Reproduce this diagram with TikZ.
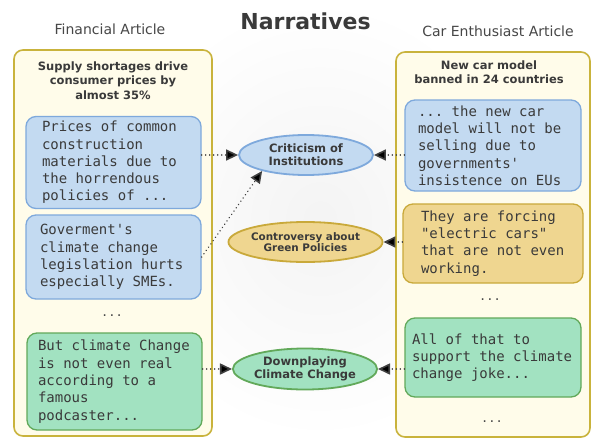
\documentclass[tikz,border=0pt]{standalone}
\usepackage{fontspec}
\setmainfont{DejaVu Sans}
\setmonofont{DejaVu Sans Mono}
\usetikzlibrary{shapes.geometric,arrows.meta}
\definecolor{cream}{HTML}{FFFCEA}
\definecolor{gold}{HTML}{C9B33C}
\definecolor{bluefill}{HTML}{C3DAF1}
\definecolor{blueline}{HTML}{7EA9DC}
\definecolor{yelfill}{HTML}{EFD690}
\definecolor{yelline}{HTML}{C9A93A}
\definecolor{grnfill}{HTML}{A2E2C1}
\definecolor{grnline}{HTML}{62A95A}
\definecolor{txt}{HTML}{3A3A3A}
\definecolor{ttl}{HTML}{474747}
\tikzset{
  container/.style={draw=gold, fill=cream, line width=1.6pt, rounded corners=9pt, inner sep=0pt},
  quotebox/.style={rounded corners=10pt, line width=1.3pt, inner sep=0pt, align=left, text=txt,
    font=\ttfamily\fontsize{14}{17.3}\selectfont,
    execute at begin node={\spaceskip=0pt\xspaceskip=0pt\relax}},
  bluebox/.style={quotebox, draw=blueline, fill=bluefill},
  yelbox/.style={quotebox, draw=yelline, fill=yelfill},
  grnbox/.style={quotebox, draw=grnline, fill=grnfill},
  narr/.style={ellipse, line width=1.8pt, inner sep=0pt, minimum width=134pt, minimum height=40pt,
    align=center, text=txt, font=\bfseries\fontsize{11.5}{13.4}\selectfont},
  header/.style={align=center, text=txt, font=\bfseries\fontsize{11.5}{14.5}\selectfont},
  coltitle/.style={anchor=base, text=ttl, font=\fontsize{14}{16}\selectfont},
  ellip/.style={text=ttl, font=\ttfamily\fontsize{12}{14}\selectfont},
  link/.style={draw=black!75, line width=1.6pt, line cap=round, dash pattern=on 0.01pt off 4pt,
    -{Triangle[length=12pt,width=11pt,fill=black,line cap=butt]}}
}
\begin{document}
\begin{tikzpicture}[x=1pt,y=-1pt]
\useasboundingbox (0,0) rectangle (591,439);
\fill[white] (0,0) rectangle (591,439);
\shade[inner color=gray!9, outer color=white] (120,0) rectangle (520,439);
% titles
\node[anchor=base, text=txt, font=\bfseries\fontsize{22}{26}\selectfont] (title) at (305.5,29.5) {Narratives};
\node[coltitle] (lt) at (110,34.3) {Financial Article};
\node[coltitle] (rt) at (498,36) {Car Enthusiast Article};
% containers
\node[container, minimum width=198pt, minimum height=386pt] (lc) at (113,243) {};
\node[container, minimum width=194pt, minimum height=385pt] (rc) at (493,244.5) {};
\node[header] (lh) at (113,80.5) {Supply shortages drive\\consumer prices by\\almost 35\%};
\node[header] (rh) at (489,72) {New car model\\banned in 24 countries};
% left quotes
\node[bluebox, minimum width=175pt, minimum height=92pt, text width=143pt] (l1) at (113.5,162.5)
  {Prices of common\\construction\\materials due to\\the horrendous\\policies of ...};
\node[bluebox, minimum width=175pt, minimum height=84pt, text width=147pt] (l2) at (113.5,257)
  {Goverment's\\climate change\\legislation hurts\\especially SMEs.};
\node[ellip] (ld) at (112,316) {...};
\node[grnbox, minimum width=175pt, minimum height=97pt, text width=153pt] (l3) at (114.5,381.5)
  {But climate Change\\is not even real\\according to a\\famous\\podcaster...};
% right quotes
\node[bluebox, minimum width=176pt, minimum height=91pt, text width=150pt] (r1) at (493,145.5)
  {... the new car\\model will not be\\selling due to\\governments'\\insistence on EUs};
\node[yelbox, minimum width=180pt, minimum height=79pt, text width=144pt] (r2) at (493,243.5)
  {They are forcing\\"electric cars"\\that are not even\\working.};
\node[ellip] (rd1) at (490,300) {...};
\node[grnbox, minimum width=176pt, minimum height=79pt, text width=162pt] (r3) at (493,357.5)
  {All of that to\\support the climate\\change joke...};
\node[ellip] (rd2) at (492,422) {...};
% narratives
\node[narr, draw=blueline, fill=bluefill] (crit) at (306,155) {Criticism of\\Institutions};
\node[narr, draw=yelline, fill=yelfill, font=\bfseries\fontsize{10.4}{11.5}\selectfont] (contro) at (305.5,242) {Controversy about\\Green Policies};
\node[narr, draw=grnline, fill=grnfill, minimum height=41pt, font=\bfseries\fontsize{11.5}{12.5}\selectfont] (down) at (305,369) {Downplaying\\Climate Change};
% links
\draw[link] (l1.east |- crit.west) -- (crit.west);
\draw[link] (l2.east) -- (crit.200);
\draw[link] (r1.west |- crit.east) -- (crit.east);
\draw[link] (r2.west |- contro.east) -- (contro.east);
\draw[link] (l3.east |- down.west) -- (down.west);
\draw[link] (r3.west |- down.east) -- (down.east);
\end{tikzpicture}
\end{document}
